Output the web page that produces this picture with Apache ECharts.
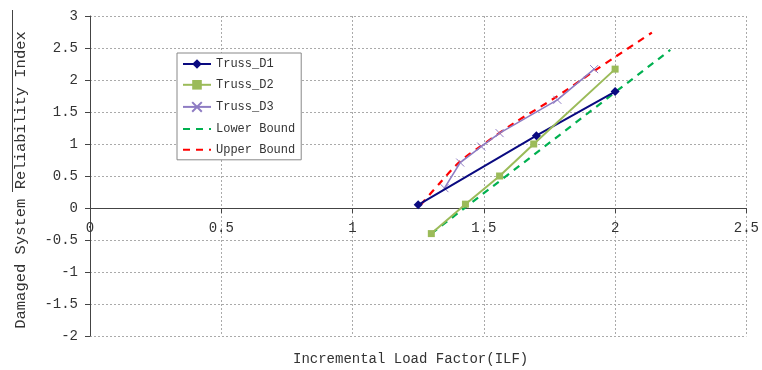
<!DOCTYPE html>
<html>
<head>
<meta charset="utf-8">
<script src="https://cdn.jsdelivr.net/npm/echarts@6/dist/echarts.min.js"></script>
<style>
    html, body { margin: 0; padding: 0; background: #fff; }
    #chart { width: 762px; height: 370px; }
</style>
</head>
<body>
<div id="chart"></div>
<script>
// values, [ILF, reliability index]
var truss1 = [[1.25, 0.05], [1.70, 1.13], [2.00, 1.82]];
var truss2 = [[1.30, -0.40], [1.43, 0.06], [1.56, 0.50], [1.69, 1.00], [2.00, 2.17]];
var truss3 = [[1.35, 0.31], [1.41, 0.71], [1.49, 0.96], [1.56, 1.17], [1.78, 1.69], [1.92, 2.17]];
var lowerBound = [[1.30, -0.40], [2.21, 2.47]];
var upperBound = [[1.26, 0.05], [1.33, 0.38], [1.41, 0.73], [1.50, 1.00], [1.62, 1.34], [1.77, 1.72], [1.92, 2.14], [2.00, 2.36], [2.14, 2.74]];
var seriesNames = ['Truss_D1', 'Truss_D2', 'Truss_D3', 'Lower Bound', 'Upper Bound'];
var xTicks = { min: 0, max: 2.5, step: 0.5 };
var yTicks = { min: -2, max: 3, step: 0.5 };

var monoFont = '"Liberation Mono", "DejaVu Sans Mono", monospace';
var gridTop = 16, gridBottom = 34, chartH = 370;
// x axis sits on y = 0, moved up from the bottom of the grid
var plotH = chartH - gridTop - gridBottom;
var zeroOffset = -plotH * (0 - yTicks.min) / (yTicks.max - yTicks.min);

var chart = echarts.init(document.getElementById('chart'), null, { renderer: 'canvas' });

var legendItems = [];
for (var i = 0; i < seriesNames.length; i++) {
    // dashed bounds have no marker in the legend
    if (i >= 3) {
        legendItems.push({ name: seriesNames[i], itemStyle: { opacity: 0 } });
    } else {
        legendItems.push({ name: seriesNames[i] });
    }
}

var option = {
    backgroundColor: '#fff',
    animation: false,
    grid: { left: 90, right: 9, top: gridTop, bottom: gridBottom },
    legend: {
        orient: 'vertical',
        left: 177,
        top: 53,
        padding: [5, 6, 4, 5],
        itemWidth: 28,
        itemHeight: 12,
        itemGap: 8.8,
        backgroundColor: '#fff',
        borderColor: '#888',
        borderWidth: 1,
        textStyle: { fontFamily: monoFont, fontSize: 12, color: '#333' },
        data: legendItems
    },
    xAxis: {
        type: 'value',
        min: xTicks.min,
        max: xTicks.max,
        interval: xTicks.step,
        offset: zeroOffset,
        axisLine: { onZero: false, lineStyle: { color: '#444', width: 1 } },
        axisTick: { show: true, inside: false, length: 5, lineStyle: { color: '#444' } },
        axisLabel: { margin: 13, fontFamily: monoFont, fontSize: 14, color: '#333' },
        splitLine: { show: true, lineStyle: { color: '#aaa', type: [2, 2], width: 1 } }
    },
    yAxis: {
        type: 'value',
        min: yTicks.min,
        max: yTicks.max,
        interval: yTicks.step,
        name: 'Damaged System Reliability Index',
        nameLocation: 'middle',
        nameRotate: 90,
        nameGap: 61,
        nameTextStyle: { fontFamily: monoFont, fontSize: 15.5, color: '#333', padding: [0, 8, 0, 0] },
        axisLine: { show: true, lineStyle: { color: '#444', width: 1 } },
        axisTick: { show: true, length: 5, lineStyle: { color: '#444' } },
        axisLabel: { margin: 12, fontFamily: monoFont, fontSize: 14, color: '#333' },
        splitLine: { show: true, lineStyle: { color: '#aaa', type: [2, 2], width: 1 } }
    },
    graphic: [
        {
            type: 'text',
            left: 293,
            top: 352,
            style: { text: 'Incremental Load Factor(ILF)', font: '14px ' + monoFont, fill: '#333' }
        },
        {
            type: 'line',
            shape: { x1: 12.5, y1: 10, x2: 12.5, y2: 192 },
            style: { stroke: '#444', lineWidth: 1 }
        }
    ],
    series: [
        {
            name: seriesNames[0],
            type: 'line',
            data: truss1,
            symbol: 'diamond',
            symbolSize: 9,
            itemStyle: { color: '#0a0a80' },
            lineStyle: { color: '#0a0a80', width: 2 },
            z: 4
        },
        {
            name: seriesNames[1],
            type: 'line',
            data: truss2,
            symbol: 'rect',
            symbolSize: 7,
            itemStyle: { color: '#9bbb59' },
            lineStyle: { color: '#9bbb59', width: 2 },
            z: 4
        },
        {
            name: seriesNames[2],
            type: 'line',
            data: truss3,
            symbol: 'path://M0,0L10,10M10,0L0,10',
            symbolSize: 8,
            itemStyle: { color: 'none', borderColor: '#8e7cc3', borderWidth: 1 },
            lineStyle: { color: '#8e7cc3', width: 1.6 },
            z: 3
        },
        {
            name: seriesNames[3],
            type: 'line',
            data: lowerBound,
            symbol: 'none',
            itemStyle: { color: '#00b050' },
            lineStyle: { color: '#00b050', width: 2.2, type: [7, 6] },
            z: 2
        },
        {
            name: seriesNames[4],
            type: 'line',
            data: upperBound,
            symbol: 'none',
            smooth: 0.3,
            itemStyle: { color: '#ff0000' },
            lineStyle: { color: '#ff0000', width: 2.2, type: [7, 6] },
            z: 2
        }
    ]
};

chart.setOption(option);
</script>
</body>
</html>
